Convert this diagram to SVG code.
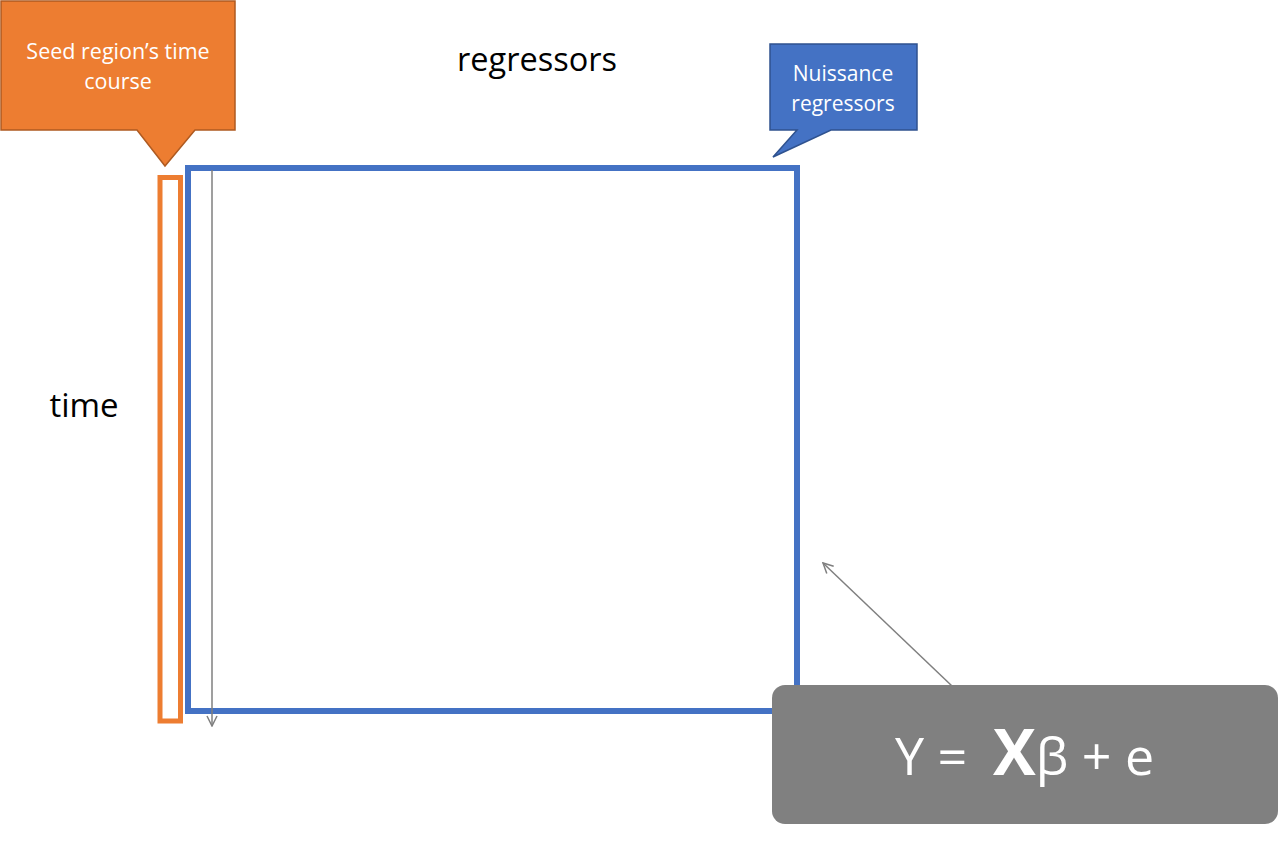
<svg xmlns="http://www.w3.org/2000/svg" width="1280" height="841" viewBox="0 0 1280 841">
<style>
.lbl{font-family:"Open Sans","Liberation Sans",sans-serif;fill:#000;}
.wt{font-family:"Open Sans","Liberation Sans",sans-serif;fill:#fff;text-anchor:middle;}
.conn{stroke:#7f7f7f;stroke-width:1.5;fill:none;}
</style>
<defs>
<marker id="open" viewBox="0 0 12 12" refX="11" refY="6" markerWidth="12" markerHeight="12" markerUnits="userSpaceOnUse" orient="auto">
<path d="M1,1 L11,6 L1,11" fill="none" stroke="#7f7f7f" stroke-width="1.5"/>
</marker>
</defs>
<rect width="1280" height="841" fill="#fff"/>
<g id="matrix">
<rect x="188" y="168" width="609" height="543" fill="none" stroke="#4472c4" stroke-width="6"/>
</g>
<g id="seed-column">
<rect x="160" y="177.5" width="20.5" height="543.5" fill="none" stroke="#ed7d31" stroke-width="5"/>
</g>
<g id="connectors">
<line class="conn" x1="212" y1="170" x2="212" y2="726" marker-end="url(#open)"/>
<line class="conn" x1="952" y1="686" x2="823" y2="563" marker-end="url(#open)"/>
</g>
<g id="seed-callout">
<path d="M1,1 H235 V130 H195 L165,166 L137,130 H1 Z" fill="#ed7d31" stroke="#ae5a21" stroke-width="1.5"/>
<text class="wt" x="118" y="59" font-size="21.5">Seed region’s time</text>
<text class="wt" x="118" y="89" font-size="21.5">course</text>
</g>
<g id="nuisance-callout">
<path d="M770,44 H917 V130 H831 L773,157 L797,130 H770 Z" fill="#4472c4" stroke="#2f528f" stroke-width="1.5"/>
<text class="wt" x="843" y="81" font-size="21">Nuissance</text>
<text class="wt" x="843" y="111" font-size="21">regressors</text>
</g>
<g id="regressors-label">
<text class="lbl" x="537" y="71" font-size="32.5" text-anchor="middle">regressors</text>
</g>
<g id="time-label">
<text class="lbl" x="84" y="417" font-size="33" text-anchor="middle">time</text>
</g>
<g id="equation">
<rect x="772" y="685" width="506" height="139" rx="13" fill="#808080"/>
<text y="775" font-family="'Open Sans','Liberation Sans',sans-serif" font-size="52" fill="#fff"><tspan x="895">Y =</tspan><tspan x="993" font-weight="bold" font-size="64">X</tspan><tspan>β + e</tspan></text>
</g>
</svg>
